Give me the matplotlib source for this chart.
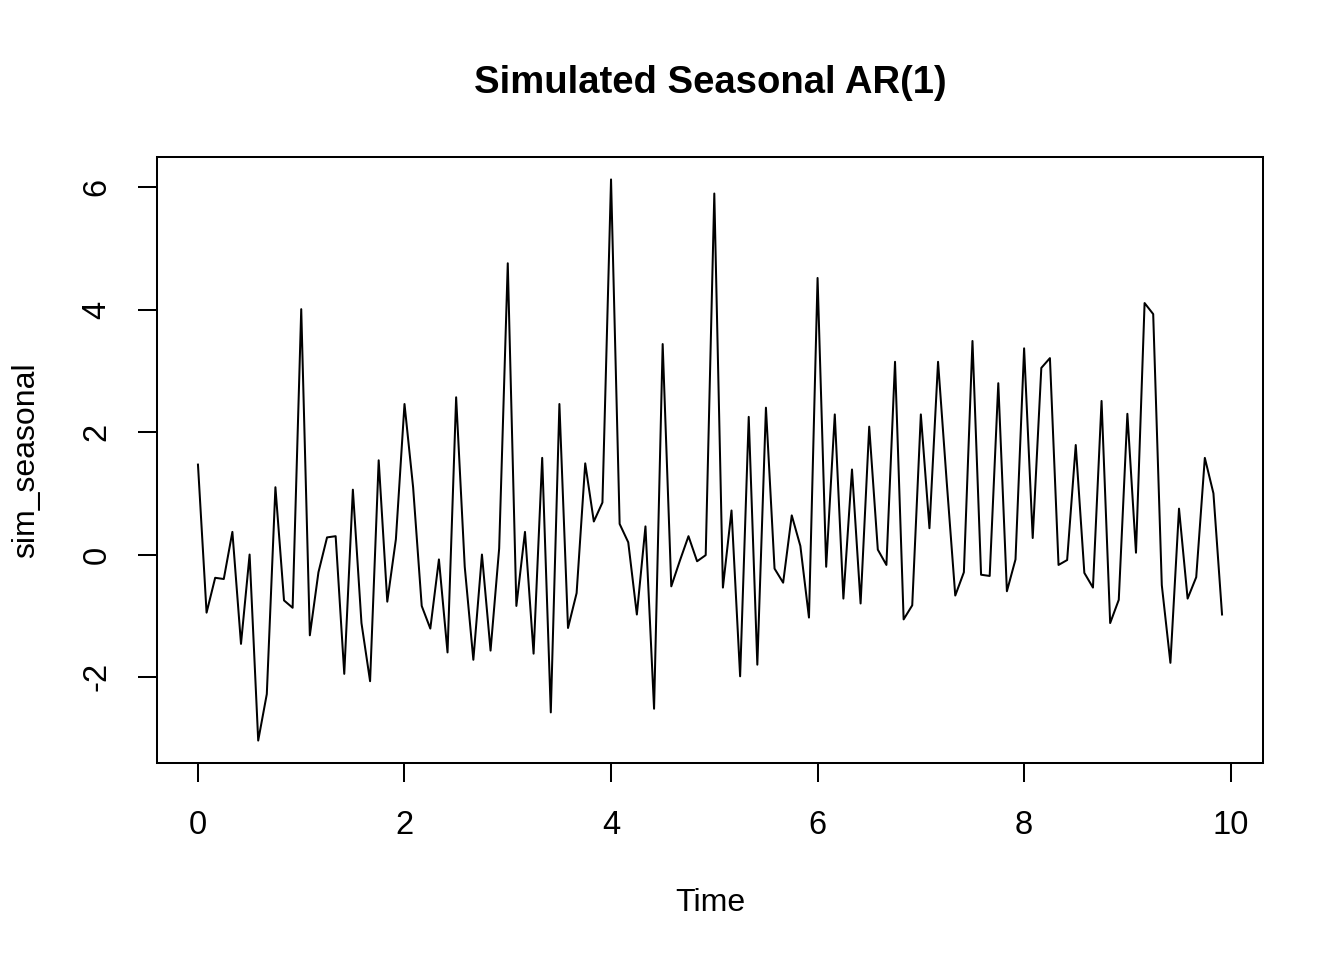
import numpy as np
import matplotlib
matplotlib.use("Agg")
import matplotlib.pyplot as plt

# monthly series, 10 years, start at time 0
start = 0
frequency = 12
sim_seasonal = [
    1.47, -0.95, -0.38, -0.40, 0.37, -1.46, 0.00, -3.04, -2.28, 1.10, -0.75, -0.87,
    4.01, -1.32, -0.29, 0.28, 0.30, -1.95, 1.06, -1.12, -2.07, 1.54, -0.77, 0.25,
    2.46, 1.10, -0.84, -1.21, -0.08, -1.60, 2.57, -0.20, -1.72, 0.00, -1.57, 0.10,
    4.76, -0.84, 0.37, -1.62, 1.58, -2.58, 2.46, -1.20, -0.63, 1.49, 0.54, 0.85,
    6.13, 0.50, 0.20, -0.98, 0.46, -2.52, 3.44, -0.52, -0.10, 0.30, -0.11, -0.01,
    5.90, -0.54, 0.72, -1.99, 2.25, -1.80, 2.40, -0.23, -0.46, 0.64, 0.14, -1.03,
    4.52, -0.20, 2.29, -0.72, 1.39, -0.80, 2.09, 0.08, -0.17, 3.15, -1.06, -0.83,
    2.29, 0.43, 3.15, 1.20, -0.67, -0.29, 3.49, -0.33, -0.35, 2.80, -0.60, -0.08,
    3.37, 0.27, 3.05, 3.21, -0.17, -0.09, 1.79, -0.30, -0.54, 2.51, -1.12, -0.74,
    2.30, 0.03, 4.11, 3.93, -0.50, -1.77, 0.75, -0.72, -0.37, 1.58, 1.00, -0.98,
]
x_ticks = [0, 2, 4, 6, 8, 10]
y_ticks = [-2, 0, 2, 4, 6]


def padded(lo, hi, frac=0.04):
    # R style axis range: data range plus 4% each side
    ext = (hi - lo) * frac
    return lo - ext, hi + ext


def main():
    plt.rcParams["font.family"] = ["Liberation Sans", "DejaVu Sans"]

    values = np.array(sim_seasonal)
    time = start + np.arange(len(values)) / frequency

    fig = plt.figure(figsize=(13.44, 9.6), dpi=100)
    ax = fig.add_axes([157 / 1344, 1 - 763 / 960, 1106 / 1344, 606 / 960])

    ax.plot(time, values, color="black", linewidth=1.45)

    ax.set_xlim(*padded(time.min(), time.max()))
    ax.set_ylim(*padded(values.min(), values.max()))

    ax.set_xticks(x_ticks)
    ax.set_yticks(y_ticks)
    ax.set_xticklabels([str(t) for t in x_ticks])
    ax.set_yticklabels([str(t) for t in y_ticks], rotation=90, va="center")
    ax.tick_params(axis="both", length=13.5, width=1.45, labelsize=23.5, color="black")
    ax.tick_params(axis="x", pad=20.5)
    ax.tick_params(axis="y", pad=18.5)

    for side in ax.spines.values():
        side.set_linewidth(1.45)
        side.set_color("black")

    # titles and labels placed like R's margin lines
    fig.text(710 / 1344, 1 - 93 / 960, "Simulated Seasonal AR(1)",
             ha="center", va="baseline", fontsize=27.5, fontweight="bold")
    fig.text(710 / 1344, 1 - 911 / 960, "Time",
             ha="center", va="baseline", fontsize=23)
    fig.text(26 / 1344, 1 - 460 / 960, "sim_seasonal",
             ha="center", va="center", rotation=90, fontsize=23)

    fig.savefig("out.png", dpi=100, facecolor="white")


if __name__ == "__main__":
    main()
